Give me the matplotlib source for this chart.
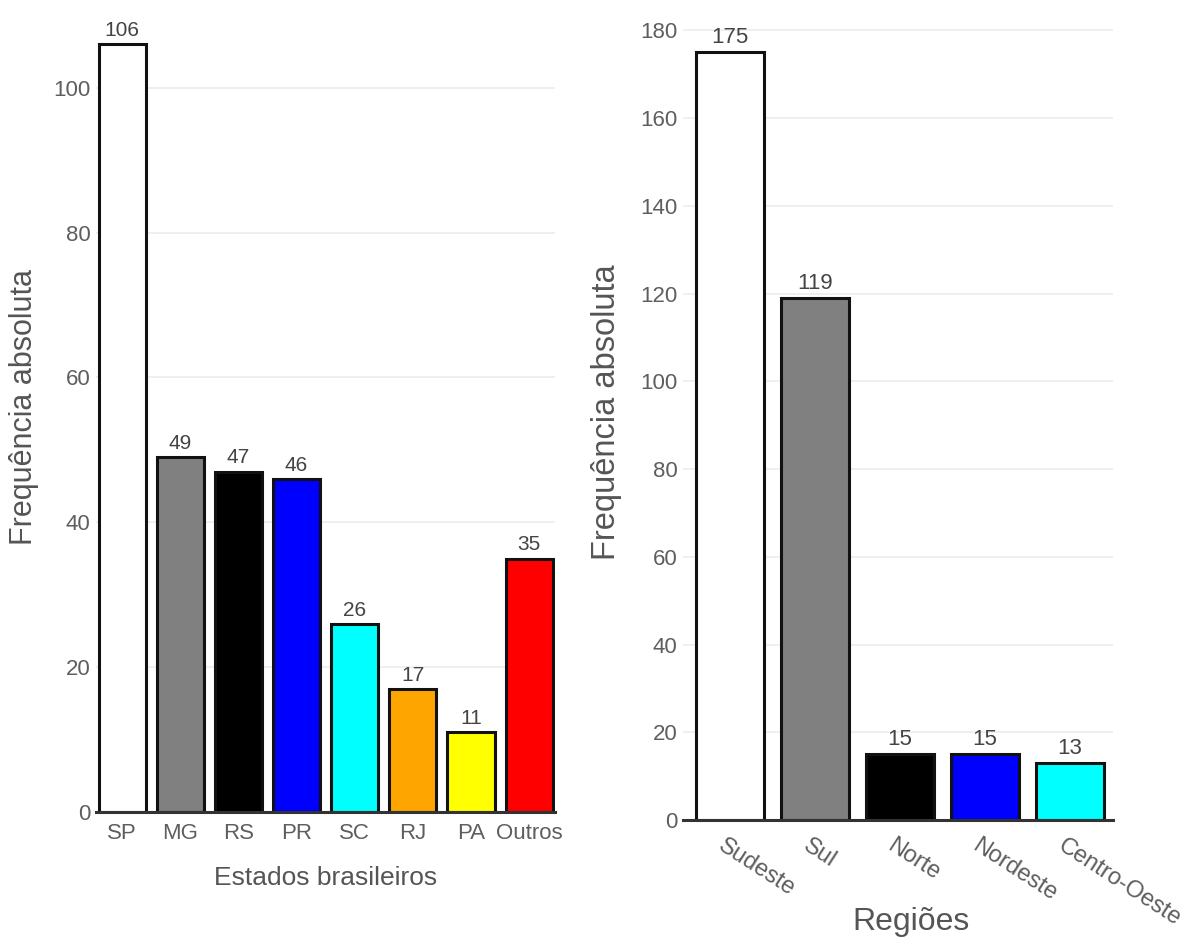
import numpy as np
import matplotlib.pyplot as plt
import matplotlib.transforms as mtransforms

plt.rcParams['font.family'] = ['Liberation Sans', 'DejaVu Sans']

# Left panel: states
estados = ["SP", "MG", "RS", "PR", "SC", "RJ", "PA", "Outros"]
freq_estados = [106, 49, 47, 46, 26, 17, 11, 35]
cores_estados = ["#ffffff", "#808080", "#000000", "#0000ff",
                 "#00ffff", "#ffa500", "#ffff00", "#ff0000"]

# Right panel: regions
regioes = ["Sudeste", "Sul", "Norte", "Nordeste", "Centro-Oeste"]
freq_regioes = [175, 119, 15, 15, 13]
cores_regioes = ["#ffffff", "#808080", "#000000", "#0000ff", "#00ffff"]

tick_color = "#5e5e5e"
label_color = "#555555"
value_color = "#444444"

fig = plt.figure(figsize=(11.93, 9.42), dpi=100)
ax1 = fig.add_axes([0.0805, 0.138, 0.385, 0.8195])
ax2 = fig.add_axes([0.5725, 0.1295, 0.3604, 0.843])


def style_axis(ax, ylim_top, yticks, tick_size):
    ax.set_ylim(0, ylim_top)
    ax.set_yticks(yticks)
    ax.grid(axis='y', color='#ececec', linewidth=1.2)
    ax.set_axisbelow(True)
    for side in ['left', 'right', 'top']:
        ax.spines[side].set_visible(False)
    ax.spines['bottom'].set_color('#333333')
    ax.spines['bottom'].set_linewidth(2.2)
    ax.tick_params(axis='y', length=0, pad=4, labelsize=tick_size, labelcolor=tick_color)
    ax.tick_params(axis='x', length=0, pad=8, labelsize=tick_size, labelcolor=tick_color)


# ---- left chart ----
x1 = np.arange(len(estados))
bars1 = ax1.bar(x1, freq_estados, width=0.81, color=cores_estados,
                edgecolor='#111111', linewidth=2.2)
style_axis(ax1, 106.6, np.arange(0, 101, 20), 16)
ax1.set_xlim(-0.45, 7.45)
ax1.set_xticks(x1)
ax1.set_xticklabels(estados)
for b, v in zip(bars1, freq_estados):
    ax1.annotate(str(v), (b.get_x() + b.get_width() / 2, v), xytext=(0, 3),
                 textcoords='offset points', ha='center', va='bottom',
                 fontsize=15, color=value_color)
ax1.set_xlabel("Estados brasileiros", fontsize=19, color=label_color, labelpad=16)
ax1.set_ylabel("Frequência absoluta", fontsize=22, color=label_color)
ax1.yaxis.set_label_coords(-0.125, 0.525)

# ---- right chart ----
x2 = np.arange(len(regioes))
bars2 = ax2.bar(x2, freq_regioes, width=0.8, color=cores_regioes,
                edgecolor='#111111', linewidth=2.2)
style_axis(ax2, 181, np.arange(0, 181, 20), 16)
ax2.set_xlim(-0.55, 4.51)
ax2.set_xticks(x2)
ax2.set_xticklabels(regioes, rotation=-33, ha='left', rotation_mode='anchor',
                    fontsize=17)
shift = mtransforms.ScaledTranslation(-4 / 100, -4 / 100, fig.dpi_scale_trans)
for lbl in ax2.get_xticklabels():
    lbl.set_transform(lbl.get_transform() + shift)
for b, v in zip(bars2, freq_regioes):
    ax2.annotate(str(v), (b.get_x() + b.get_width() / 2, v), xytext=(0, 3),
                 textcoords='offset points', ha='center', va='bottom',
                 fontsize=16, color=value_color)
ax2.set_xlabel("Regiões", fontsize=23, color=label_color)
ax2.xaxis.set_label_coords(0.53, -0.11)
ax2.set_ylabel("Frequência absoluta", fontsize=23.5, color=label_color)
ax2.yaxis.set_label_coords(-0.142, 0.514)

fig.savefig("out.png", dpi=100)
